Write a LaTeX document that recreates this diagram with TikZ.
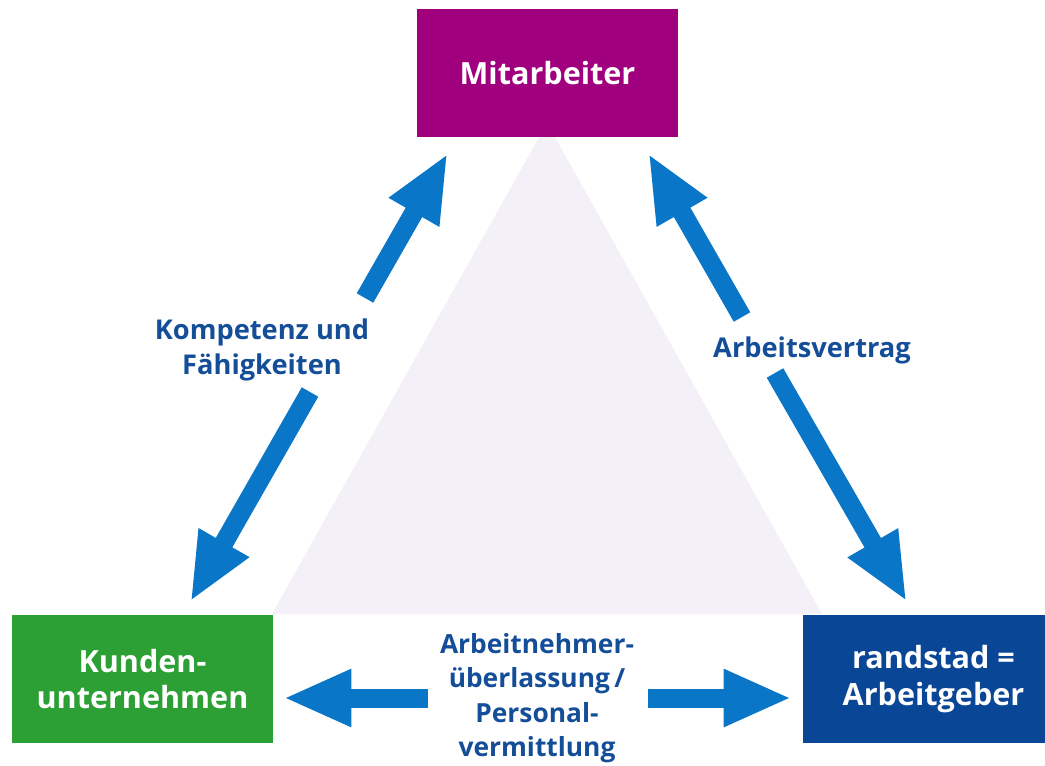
\documentclass[tikz,border=0pt]{standalone}
\usepackage{fontspec}
\setmainfont{Open Sans}
\usetikzlibrary{arrows.meta}
\definecolor{lila}{RGB}{160,0,125}
\definecolor{gruen}{RGB}{44,160,52}
\definecolor{dunkelblau}{RGB}{10,70,150}
\definecolor{pfeilblau}{RGB}{10,118,200}
\definecolor{textblau}{RGB}{20,78,152}
\definecolor{flaeche}{RGB}{243,240,247}
\tikzstyle{fatarrow} = [line width=0.38cm,-{Triangle[length=1.36cm,width=1.06cm]},draw=pfeilblau]

\begin{document}
\begin{tikzpicture}
        [
            x=0.02cm, y=-0.02cm,
            box/.style={rectangle,minimum width=5.22cm,minimum height=2.56cm,inner sep=0pt,text=white,align=center,font=\fontsize{17.4}{21}\selectfont\bfseries},
            lbl/.style={inner sep=0pt,text=textblau,align=center,font=\fontsize{15.5}{19.8}\selectfont\bfseries},
        ]

    \clip (0,0) rectangle (1045,765);
    \fill[flaeche] (547,123) -- (272,614) -- (822,614) -- cycle;

    \node[box,fill=lila] (mit) at (547.5,73){Mitarbeiter};
    \node[box,fill=gruen] (kun) at (142.5,679){Kunden-\\unternehmen};
    \node[box,fill=dunkelblau] (ran) at (933.5,679){randstad =\\Arbeitgeber};

    \node[lbl] (kom) at (262,350){Kompetenz und\\Fähigkeiten};
    \node[lbl] (arb) at (812,350){Arbeitsvertrag};
    \node[lbl,font=\fontsize{15}{19.6}\selectfont\bfseries] (ueb) at (537,698){Arbeitnehmer-\\überlassung\,/\\Personal-\\vermittlung};

    \coordinate (mitL) at ([shift={(31,16)}]mit.south west);
    \coordinate (mitR) at ([shift={(-30,16)}]mit.south east);
    \coordinate (kunT) at ([shift={(-83,-13)}]kun.north east);
    \coordinate (ranT) at ([shift={(104,-13)}]ran.north west);
    \coordinate (kunR) at ([shift={(10,19)}]kun.east);
    \coordinate (ranL) at ([shift={(-11,19)}]ran.west);

    \coordinate (kom1) at (365,298);
    \coordinate (kom2) at (310,392);
    \coordinate (arb1) at (742,317);
    \coordinate (arb2) at (775,373);
    \coordinate (ueb1) at (428,698);
    \coordinate (ueb2) at (648,698);

    \draw[fatarrow] (kom1) -- (mitL);
    \draw[fatarrow] (kom2) -- (kunT);
    \draw[fatarrow] (arb1) -- (mitR);
    \draw[fatarrow] (arb2) -- (ranT);
    \draw[fatarrow] (ueb1) -- (kunR);
    \draw[fatarrow] (ueb2) -- (ranL);
\end{tikzpicture}
\end{document}
